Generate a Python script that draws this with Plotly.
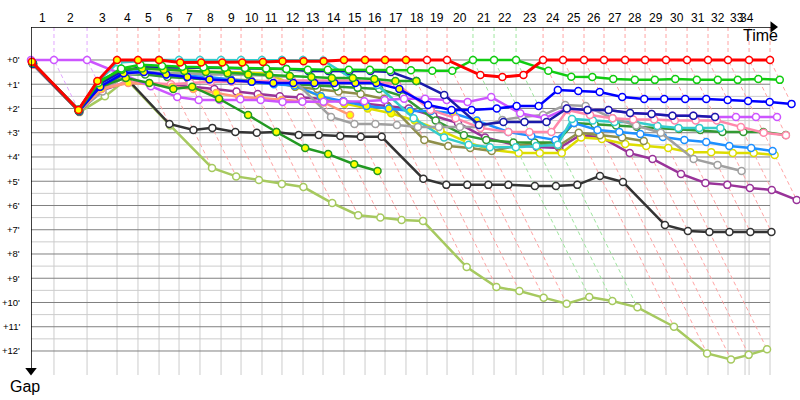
import plotly.graph_objects as go

# leader's crossing time (minutes) at the end of laps 0..34
lap_times = [0.00, 1.93, 4.71, 7.23, 8.99, 10.76, 12.44, 14.20, 15.97, 17.65,
             19.41, 21.09, 22.86, 24.54, 26.30, 28.07, 29.75, 31.51, 33.28, 34.96,
             37.14, 38.91, 40.76, 43.03, 44.71, 46.47, 48.15, 49.92, 51.60, 53.36,
             55.13, 56.89, 58.57, 60.34, 62.10]
time_limit = 60.0
lap_labels = [str(i) for i in range(1, 35)]
# leader of each lap 1..34 (colours the lap lines)
lap_leader = ["violet", "violet"] + ["red"] * 17 + ["green"] * 3 + ["red"] * 12
gap_ticks = list(range(0, 13))
gap_tick_labels = ["+%d'" % g for g in gap_ticks]

# gap to leader (minutes) per lap, lap 0 = start
red_gaps = [0.07, 2.06, 0.87, 0, 0, 0, 0.1, 0.1, 0.1, 0.1, 0.08, 0.05, 0.05, 0.05, 0, 0, 0, 0, 0, 0,
            0.62, 0.7, 0.62, 0, 0, 0, 0, 0, 0, 0, 0, 0, 0, 0, 0]
green_gaps = [0.1, 2.08, 0.95, 0.35, 0.2, 0.25, 0.28, 0.3, 0.32, 0.33, 0.35, 0.37, 0.4, 0.4, 0.4, 0.4,
              0.42, 0.42, 0.44, 0.44, 0, 0, 0, 0.44, 0.69, 0.7, 0.78, 0.82, 0.82, 0.78, 0.82, 0.82,
              0.82, 0.78, 0.82]
green2_gaps = [0.1, 2.05, 0.9, 0.4, 0.35, 0.4, 0.45, 0.5, 0.55, 0.6, 0.62, 0.66, 0.7, 0.74, 0.74, 0.78,
               0.87, 0.87]
blue_gaps = [0.15, 2.1, 1.1, 0.55, 0.5, 0.6, 0.7, 0.8, 0.85, 0.9, 0.95, 0.95, 0.95, 0.95, 0.95, 0.95,
             1.2, 1.86, 2.06, 2.06, 2.0, 1.9, 1.9, 1.24, 1.28, 1.32, 1.53, 1.61, 1.61, 1.61, 1.61,
             1.65, 1.69, 1.73, 1.81]
navy_gaps = [0.12, 2.1, 1.0, 0.45, 0.3, 0.3, 0.3, 0.32, 0.33, 0.35, 0.37, 0.37, 0.45, 0.45, 0.45, 0.45,
             0.5, 0.87, 1.44, 2.68, 2.56, 2.56, 2.56, 2.0, 2.06, 2.06, 2.19, 2.23, 2.3, 2.3, 2.35]
violet_gaps = [0, 0, 0, 0.63, 1.08, 1.53, 1.65, 1.65, 1.62, 1.65, 1.73, 1.72, 1.72, 1.72, 1.7, 1.65,
               1.6, 1.6, 1.65, 1.73, 1.53, 2.2, 2.4, 2.0, 2.06, 2.06, 2.19, 2.23, 2.3, 2.3, 2.35,
               2.35, 2.35, 2.35]
purple_gaps = [0.2, 2.12, 1.25, 0.9, 1.0, 1.05, 1.1, 1.2, 1.3, 1.4, 1.5, 1.55, 1.6, 1.7, 1.8, 1.9,
               2.0, 2.3, 2.6, 3.2, 3.5, 3.59, 3.63, 3.1, 3.18, 3.84, 4.08, 4.7, 5.07, 5.15, 5.28,
               5.36, 5.77]
yellow_gaps = [0.1, 2.05, 0.95, 0.4, 0.35, 0.4, 0.45, 0.48, 0.5, 0.52, 0.55, 1.1, 1.5, 1.8, 2.0, 2.2,
               2.5, 2.9, 3.4, 3.7, 3.84, 3.84, 3.84, 3.2, 3.26, 3.46, 3.55, 3.63, 3.8, 3.8, 3.84,
               3.84, 3.92]
olive_gaps = [0.15, 2.1, 1.2, 0.6, 0.5, 0.6, 0.7, 0.75, 0.8, 0.85, 0.9, 1.1, 1.2, 1.3, 1.4, 1.6,
              3.3, 3.55, 3.63, 3.75, 3.55, 3.42, 3.55, 3.0, 3.1, 3.2, 3.34]
teal_gaps = [0.1, 2.05, 0.9, 0.1, 0.05, 0, 0, 0, 0, 0, 0, 0, 0, 0.02, 0.8, 1.03, 2.4, 3.2, 3.5, 3.6,
             3.6, 3.55, 3.5, 2.43, 2.5, 2.56, 2.56, 2.72, 2.8, 2.8, 2.8]
skyblue_gaps = [0.1, 2.05, 1.0, 0.5, 0.45, 0.6, 0.65, 0.7, 0.8, 0.9, 1.0, 1.05, 1.5, 1.7, 1.9, 2.0,
                2.1, 2.1, 2.2, 2.5, 2.97, 3.13, 3.3, 2.6, 2.89, 2.97, 3.05, 3.18, 3.3, 3.38, 3.55,
                3.63, 3.75]
dkgreen2_gaps = [0.15, 2.1, 1.1, 0.6, 0.6, 0.7, 0.75, 0.8, 0.85, 0.9, 0.95, 1.0, 1.05, 1.1, 1.15, 1.2,
                 1.5, 2.5, 3.1, 3.3, 3.4, 3.4, 3.4, 2.6, 2.65, 2.7, 2.75, 2.8, 2.85, 2.89, 2.97,
                 2.97, 2.97, 3.09]
gray_gaps = [0.2, 2.1, 1.3, 0.65, 0.5, 0.55, 0.55, 0.6, 0.6, 0.62, 0.65, 0.7, 2.35, 2.64, 2.64, 2.68,
             2.76, 2.76, 2.76, 2.76, 2.47, 2.35, 2.27, 1.86, 1.9, 2.4, 2.7, 3.0, 4.08, 4.33, 4.58]
pink_gaps = [0.2, 2.1, 1.2, 0.9, 0.95, 1.0, 0.95, 0.9, 0.9, 0.88, 0.85, 0.85, 0.85, 0.85, 0.85, 0.9,
             1.0, 2.06, 2.4, 2.8, 2.97, 2.97, 2.97, 2.06, 2.27, 2.4, 2.45, 2.45, 2.5, 2.5, 2.5,
             2.76, 3.0, 3.1]
salmon_gaps = [0.2, 2.1, 1.2, 0.95, 1.0, 1.1, 1.2, 1.36, 1.53, 1.57, 1.65, 1.7, 1.75, 2.27]
dkgreen_gaps = [0.15, 2.1, 1.1, 0.74, 0.95, 1.2, 1.1, 1.6, 2.27, 2.97, 3.63, 3.88, 4.3, 4.58]
black_gaps = [0.2, 2.12, 1.2, 0.7, 2.64, 2.89, 2.8, 2.97, 3.0, 2.97, 3.09, 3.09, 3.13, 3.17, 3.17,
              4.9, 5.15, 5.15, 5.15, 5.15, 5.2, 5.2, 5.15, 4.78, 5.03, 6.8, 7.05, 7.09, 7.09, 7.09,
              7.09]
lime_gaps = [0.2, 2.15, 1.5, 0.8, 2.7, 4.45, 4.8, 4.95, 5.11, 5.24, 5.9, 6.4, 6.5, 6.6, 6.64, 8.54,
             9.36, 9.53, 9.8, 10.05, 9.77, 9.94, 10.2, 11.0, 12.1, 12.35, 12.16, 11.93]

# (name, colour, gaps, last lap drawn with a yellow-filled marker)
series = [
    ("lime", "#a6c95f", lime_gaps, -1),
    ("black", "#333333", black_gaps, -1),
    ("purple", "#993399", purple_gaps, -1),
    ("yellow", "#dddd00", yellow_gaps, 16),
    ("olive", "#8f8f4a", olive_gaps, -1),
    ("dkgreen2", "#339933", dkgreen2_gaps, -1),
    ("skyblue", "#1e90ff", skyblue_gaps, 19),
    ("teal", "#33cccc", teal_gaps, -1),
    ("gray", "#a0a0a0", gray_gaps, -1),
    ("pink", "#ff88aa", pink_gaps, -1),
    ("salmon", "#ff9977", salmon_gaps, 99),
    ("violet", "#cc55ff", violet_gaps, -1),
    ("navy", "#1a1aaa", navy_gaps, -1),
    ("dkgreen", "#229922", dkgreen_gaps, 99),
    ("blue", "#0000ff", blue_gaps, 16),
    ("green2", "#22aa22", green2_gaps, 99),
    ("green", "#11cc11", green_gaps, -1),
    ("red", "#ff0000", red_gaps, 17),
]
lap_line_colors = {"red": "#ffa4a4", "violet": "#e2a8ff", "green": "#9fe69f"}

Y_TOP, Y_BOTTOM = -1.36, 12.99
X_MAX = 64.62

fig = go.Figure()

# horizontal grid
minor_x, minor_y, major_x, major_y = [], [], [], []
for g in gap_ticks:
    major_x += [0, lap_times[-1], None]
    major_y += [g, g, None]
    if g < gap_ticks[-1]:
        minor_x += [0, lap_times[-1], None]
        minor_y += [g + 0.5, g + 0.5, None]
fig.add_trace(go.Scatter(x=minor_x, y=minor_y, mode="lines",
                         line=dict(color="#cccccc", width=1), hoverinfo="skip"))
# vertical grid at every lap end and at the time limit
vx, vy = [], []
for t in lap_times[1:] + [time_limit]:
    vx += [t, t, None]
    vy += [0, Y_BOTTOM, None]
fig.add_trace(go.Scatter(x=vx, y=vy, mode="lines",
                         line=dict(color="#cccccc", width=1), hoverinfo="skip"))
fig.add_trace(go.Scatter(x=major_x, y=major_y, mode="lines",
                         line=dict(color="#808080", width=1), hoverinfo="skip"))

# lap lines (dashed, coloured by lap leader)
lap_lines = {}
for k in range(1, len(lap_times)):
    gmax = max(s[2][k] for s in series if len(s[2]) > k)
    t = lap_times[k]
    c = lap_line_colors[lap_leader[k - 1]]
    xs, ys = lap_lines.setdefault(c, ([], []))
    xs += [t, t, t + gmax, None]
    ys += [Y_TOP, 0, gmax, None]
for c, (xs, ys) in lap_lines.items():
    fig.add_trace(go.Scatter(x=xs, y=ys, mode="lines",
                             line=dict(color=c, width=1, dash="4px,3px"), hoverinfo="skip"))

# cars
for name, color, gaps, yellow_until in series:
    xs = [lap_times[k] + g for k, g in enumerate(gaps)]
    fills = ["#ffff00" if k <= yellow_until else "#ffffff" for k in range(len(gaps))]
    fig.add_trace(go.Scatter(
        x=xs, y=gaps, mode="lines+markers", name=name, cliponaxis=False,
        line=dict(color=color, width=3 if name == "red" else 2.5),
        marker=dict(size=7, color=fills, line=dict(color=color, width=1.5)),
        hoverinfo="skip"))

# axes with arrows
fig.add_trace(go.Scatter(x=[0, 62.35], y=[Y_TOP, Y_TOP], mode="lines", cliponaxis=False,
                         line=dict(color="black", width=1.5), hoverinfo="skip"))
fig.add_trace(go.Scatter(x=[62.35], y=[Y_TOP], mode="markers", cliponaxis=False,
                         marker=dict(symbol="triangle-right", size=10, color="black"),
                         hoverinfo="skip"))
fig.add_trace(go.Scatter(x=[0, 0], y=[Y_TOP, 12.8], mode="lines", cliponaxis=False,
                         line=dict(color="black", width=1.5), hoverinfo="skip"))
fig.add_trace(go.Scatter(x=[0], y=[12.8], mode="markers", cliponaxis=False,
                         marker=dict(symbol="triangle-down", size=10, color="black"),
                         hoverinfo="skip"))

annotations = []
bounds = sorted(lap_times + [time_limit])
for i, lab in enumerate(lap_labels):
    mid = (bounds[i] + bounds[i + 1]) / 2
    annotations.append(dict(x=mid, y=1, xref="x", yref="paper", text=lab, showarrow=False,
                            xanchor="center", yanchor="middle", yshift=9,
                            font=dict(size=12, color="black")))
for g, lab in zip(gap_ticks, gap_tick_labels):
    annotations.append(dict(x=0, y=g, xref="paper", yref="y", text=lab, showarrow=False,
                            xanchor="right", yanchor="middle", xshift=-9,
                            font=dict(size=9.5, color="black")))
annotations.append(dict(x=61.3, y=1, xref="x", yref="paper", text="Time", showarrow=False,
                        xanchor="center", yanchor="middle", yshift=-8,
                        font=dict(size=16, color="black")))
annotations.append(dict(x=0, y=0, xref="paper", yref="paper", text="Gap", showarrow=False,
                        xanchor="center", yanchor="middle", xshift=-6, yshift=-11,
                        font=dict(size=16, color="black")))

fig.update_layout(
    width=800, height=400,
    margin=dict(l=31, r=0, t=27, b=25),
    paper_bgcolor="white", plot_bgcolor="white",
    showlegend=False, hovermode=False,
    font=dict(family="Liberation Sans, Arial, sans-serif"),
    xaxis=dict(range=[0, X_MAX], showgrid=False, zeroline=False, showticklabels=False,
               showline=False, fixedrange=True),
    yaxis=dict(range=[Y_BOTTOM, Y_TOP], showgrid=False, zeroline=False, showticklabels=False,
               showline=False, fixedrange=True),
    annotations=annotations,
)

fig.write_html("out.html", config={"displayModeBar": False},
               post_script="document.body.style.margin='0px';")
